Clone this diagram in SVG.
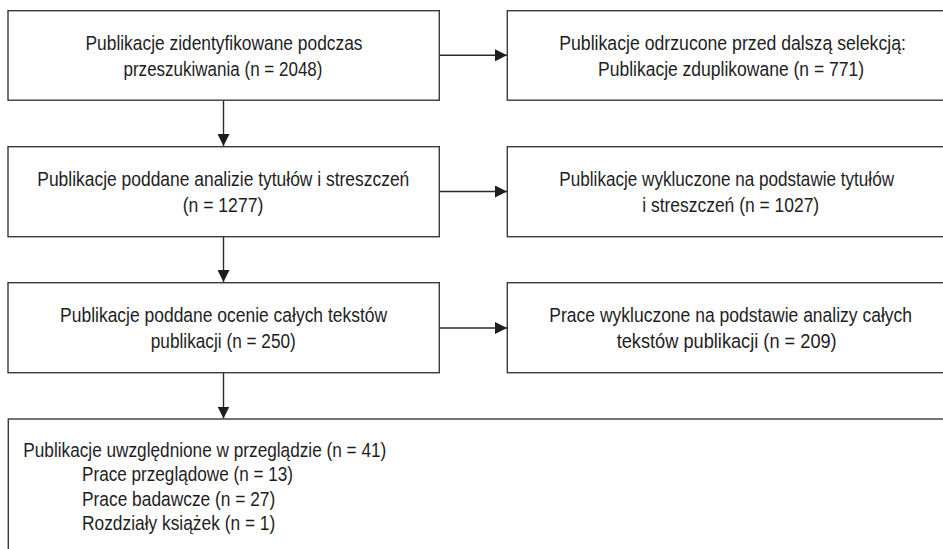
<svg xmlns="http://www.w3.org/2000/svg" width="943" height="549" viewBox="0 0 943 549">
<defs>
<style>
.box{fill:#fff;stroke:#3a3a3a;stroke-width:1.4}
.t{font-family:"Liberation Sans",Arial,sans-serif;font-size:20.5px;fill:#1e1e1e}
.c{text-anchor:middle}
.conn{stroke:#2a2a2a;stroke-width:1.4;fill:none}
</style>
<marker id="ah" markerUnits="userSpaceOnUse" markerWidth="12" markerHeight="12" refX="12" refY="6" orient="auto">
<path d="M0,0 L12,6 L0,12 z" fill="#1e1e1e"/>
</marker>
</defs>
<rect width="943" height="549" fill="#fff"/>
<g id="connectors">
<line class="conn" x1="223.5" y1="100.5" x2="223.5" y2="146" marker-end="url(#ah)"/>
<line class="conn" x1="223.5" y1="236.5" x2="223.5" y2="282" marker-end="url(#ah)"/>
<line class="conn" x1="223.5" y1="372.5" x2="223.5" y2="418.5" marker-end="url(#ah)"/>
<line class="conn" x1="439.5" y1="55.3" x2="507" y2="55.3" marker-end="url(#ah)"/>
<line class="conn" x1="439.5" y1="191.5" x2="507" y2="191.5" marker-end="url(#ah)"/>
<line class="conn" x1="439.5" y1="328" x2="507" y2="328" marker-end="url(#ah)"/>
</g>
<g id="n1">
<rect class="box" x="8" y="10.7" width="431.3" height="89.5"/>
<text class="t c" x="224" y="50.3" textLength="277" lengthAdjust="spacingAndGlyphs">Publikacje zidentyfikowane podczas</text>
<text class="t c" x="223" y="75.7" textLength="199" lengthAdjust="spacingAndGlyphs">przeszukiwania (n = 2048)</text>
</g>
<g id="n2">
<rect class="box" x="8" y="146.7" width="431.3" height="90"/>
<text class="t c" x="223.3" y="186.3" textLength="372" lengthAdjust="spacingAndGlyphs">Publikacje poddane analizie tytułów i streszczeń</text>
<text class="t c" x="223" y="211.7" textLength="80.6" lengthAdjust="spacingAndGlyphs">(n = 1277)</text>
</g>
<g id="n3">
<rect class="box" x="8" y="282.7" width="431.3" height="90"/>
<text class="t c" x="223.6" y="322" textLength="327" lengthAdjust="spacingAndGlyphs">Publikacje poddane ocenie całych tekstów</text>
<text class="t c" x="223.3" y="348" textLength="145" lengthAdjust="spacingAndGlyphs">publikacji (n = 250)</text>
</g>
<g id="r1">
<rect class="box" x="507.3" y="10.7" width="460" height="89.5"/>
<text class="t c" x="732.6" y="50.3" textLength="346.7" lengthAdjust="spacingAndGlyphs">Publikacje odrzucone przed dalszą selekcją:</text>
<text class="t c" x="731" y="75.7" textLength="266" lengthAdjust="spacingAndGlyphs">Publikacje zduplikowane (n = 771)</text>
</g>
<g id="r2">
<rect class="box" x="507.3" y="146.7" width="460" height="90"/>
<text class="t c" x="726.7" y="186.3" textLength="334.7" lengthAdjust="spacingAndGlyphs">Publikacje wykluczone na podstawie tytułów</text>
<text class="t c" x="730.7" y="211.7" textLength="177" lengthAdjust="spacingAndGlyphs">i streszczeń (n = 1027)</text>
</g>
<g id="r3">
<rect class="box" x="507.3" y="282.7" width="460" height="90"/>
<text class="t c" x="730.7" y="322" textLength="362.7" lengthAdjust="spacingAndGlyphs">Prace wykluczone na podstawie analizy całych</text>
<text class="t c" x="726.7" y="348" textLength="220" lengthAdjust="spacingAndGlyphs">tekstów publikacji (n = 209)</text>
</g>
<g id="n4">
<rect class="box" x="8.3" y="419" width="1000" height="200"/>
<text class="t" x="23.3" y="457" textLength="363" lengthAdjust="spacingAndGlyphs">Publikacje uwzględnione w przeglądzie (n = 41)</text>
<text class="t" x="82" y="481.3" textLength="211" lengthAdjust="spacingAndGlyphs">Prace przeglądowe (n = 13)</text>
<text class="t" x="82" y="505.6" textLength="193.3" lengthAdjust="spacingAndGlyphs">Prace badawcze (n = 27)</text>
<text class="t" x="82" y="530" textLength="193.3" lengthAdjust="spacingAndGlyphs">Rozdziały książek (n = 1)</text>
</g>
</svg>
